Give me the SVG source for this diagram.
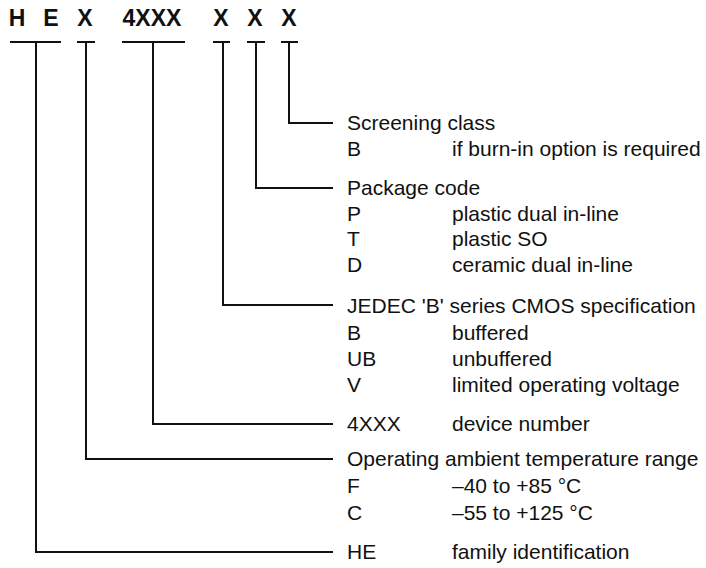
<svg xmlns="http://www.w3.org/2000/svg" width="706" height="568" viewBox="0 0 706 568">
<style>
.hd{font-family:"Liberation Sans",Arial,sans-serif;font-size:23px;font-weight:bold;fill:#111;text-anchor:middle}
.t{font-family:"Liberation Sans",Arial,sans-serif;font-size:21px;fill:#111}
.ln{fill:none;stroke:#111;stroke-width:2}
</style>
<rect width="706" height="568" fill="#fff"/>
<g id="header">
<text class="hd" x="17" y="26">H</text>
<text class="hd" x="51" y="26">E</text>
<text class="hd" x="85" y="26">X</text>
<text class="hd" x="152" y="26">4XXX</text>
<text class="hd" x="221" y="26">X</text>
<text class="hd" x="255" y="26">X</text>
<text class="hd" x="289" y="26">X</text>
</g>
<g id="connectors">
<path class="ln" d="M10 42H61M36 42V552H333"/>
<path class="ln" d="M77 42H95M86 42V459H333"/>
<path class="ln" d="M122 42H185M153 42V424H333"/>
<path class="ln" d="M213 42H230M223 42V305H333"/>
<path class="ln" d="M247 42H265M256 42V188H333"/>
<path class="ln" d="M281 42H298M289 42V123H333"/>
</g>
<g id="screening">
<text class="t" x="347" y="130">Screening class</text>
<text class="t" x="347" y="156">B</text><text class="t" x="452" y="156">if burn-in option is required</text>
</g>
<g id="package">
<text class="t" x="347" y="195">Package code</text>
<text class="t" x="347" y="221">P</text><text class="t" x="452" y="221">plastic dual in-line</text>
<text class="t" x="347" y="246">T</text><text class="t" x="452" y="246">plastic SO</text>
<text class="t" x="347" y="272">D</text><text class="t" x="452" y="272">ceramic dual in-line</text>
</g>
<g id="jedec">
<text class="t" x="347" y="313">JEDEC 'B' series CMOS specification</text>
<text class="t" x="347" y="340">B</text><text class="t" x="452" y="340">buffered</text>
<text class="t" x="347" y="366">UB</text><text class="t" x="452" y="366">unbuffered</text>
<text class="t" x="347" y="392">V</text><text class="t" x="452" y="392">limited operating voltage</text>
</g>
<g id="device">
<text class="t" x="347" y="431">4XXX</text><text class="t" x="452" y="431">device number</text>
</g>
<g id="temperature">
<text class="t" x="347" y="466">Operating ambient temperature range</text>
<text class="t" x="347" y="493">F</text><text class="t" x="452" y="493">–40 to +85 °C</text>
<text class="t" x="347" y="520">C</text><text class="t" x="452" y="520">–55 to +125 °C</text>
</g>
<g id="family">
<text class="t" x="347" y="559">HE</text><text class="t" x="452" y="559">family identification</text>
</g>
</svg>
